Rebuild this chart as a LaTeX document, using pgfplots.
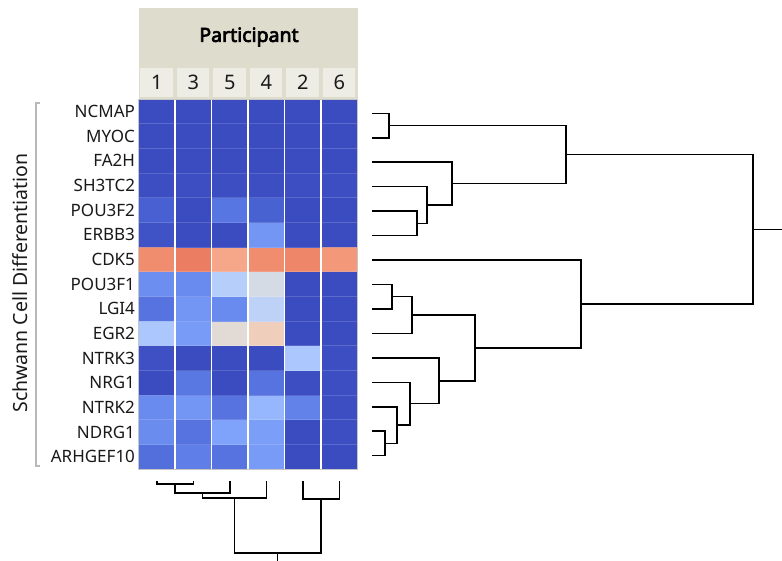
\documentclass[border=0pt]{standalone}
\usepackage{pgfplots}
\pgfplotsset{compat=1.18}
\usepackage{fontspec}
\setmainfont{Noto Sans}
\newfontfamily\hdrfont{Noto Sans}[FakeBold=3.5]
\definecolor{hdrbg}{RGB}{221,220,205}
\definecolor{hcell}{RGB}{237,236,229}
\definecolor{txt}{RGB}{25,25,25}
\definecolor{brk}{RGB}{185,185,185}
\begin{document}
\begin{tikzpicture}
\path[use as bounding box] (0,0) rectangle (782pt,-560pt);
% ---------- frame axis in pixel units (header, bracket, dendrograms)
\begin{axis}[name=px, at={(0pt,0pt)}, anchor=north west, scale only axis,
  width=782pt, height=560pt, xmin=0, xmax=782, ymin=0, ymax=560,
  y dir=reverse, hide axis, clip=false,
  dend/.style={black, line width=1.5pt, line join=miter, no markers}]
\fill[hdrbg] (axis cs:138.5,8) rectangle (axis cs:357.5,98.5);
\node[font=\hdrfont\fontsize{19.5}{19.5}\selectfont, text=black] at (axis cs:249,37) {Participant};
\draw[brk, line width=1.2pt] (axis cs:40,103) -- (axis cs:36,103) -- (axis cs:36,466) -- (axis cs:40,466);
\node[rotate=90, font=\fontsize{19.5}{19.5}\selectfont, text=txt] at (axis cs:20.5,283) {Schwann Cell Differentiation};
% right dendrogram
\addplot[dend] coordinates {(372,113.3)(389,113.3)(389,137.8)(372,137.8)};
\addplot[dend] coordinates {(372,211.1)(417,211.1)(417,235.6)(372,235.6)};
\addplot[dend] coordinates {(372,186.7)(427,186.7)(427,223.3)(417,223.3)};
\addplot[dend] coordinates {(372,162.2)(452,162.2)(452,205)(427,205)};
\addplot[dend] coordinates {(389,125.5)(566,125.5)(566,183.6)(452,183.6)};
\addplot[dend] coordinates {(372,284.5)(392,284.5)(392,309)(372,309)};
\addplot[dend] coordinates {(392,296.7)(412,296.7)(412,333.4)(372,333.4)};
\addplot[dend] coordinates {(372,431.2)(385,431.2)(385,455.7)(372,455.7)};
\addplot[dend] coordinates {(372,406.8)(397,406.8)(397,443.5)(385,443.5)};
\addplot[dend] coordinates {(372,382.3)(410,382.3)(410,425.1)(397,425.1)};
\addplot[dend] coordinates {(372,357.9)(439,357.9)(439,403.7)(410,403.7)};
\addplot[dend] coordinates {(412,315)(475,315)(475,380.8)(439,380.8)};
\addplot[dend] coordinates {(372,260)(581,260)(581,347.9)(475,347.9)};
\addplot[dend] coordinates {(566,154.6)(753,154.6)(753,304)(581,304)};
\addplot[dend] coordinates {(753,229.3)(785,229.3)};
% bottom dendrogram
\addplot[dend] coordinates {(156.75,481)(156.75,484)(193.25,484)(193.25,481)};
\addplot[dend] coordinates {(175,484)(175,493)(229.75,493)(229.75,481)};
\addplot[dend] coordinates {(202.4,493)(202.4,498)(266.25,498)(266.25,481)};
\addplot[dend] coordinates {(302.75,481)(302.75,499)(339.25,499)(339.25,481)};
\addplot[dend] coordinates {(234.3,498)(234.3,553)(321,553)(321,499)};
\addplot[dend] coordinates {(277.7,553)(277.7,563)};
\end{axis}
% ---------- heatmap
\begin{axis}[at={(138.5pt,-99pt)}, anchor=north west, scale only axis,
  width=219pt, height=370pt, xmin=-0.5, xmax=5.5, ymin=-0.5, ymax=14.5,
  colormap={coolwarm}{rgb255=(59,76,192) rgb255=(77,104,215) rgb255=(98,130,234)
    rgb255=(119,154,247) rgb255=(141,176,254) rgb255=(163,194,255) rgb255=(184,208,249)
    rgb255=(204,217,238) rgb255=(221,221,221) rgb255=(236,211,197) rgb255=(245,196,172)
    rgb255=(247,177,148) rgb255=(244,154,123) rgb255=(236,127,99) rgb255=(222,96,77)
    rgb255=(203,62,56) rgb255=(180,4,38)},
  point meta min=0, point meta max=1,
  xtick={0,...,5}, xticklabels={1,3,5,4,2,6}, xticklabel pos=upper,
  ytick={0,...,14},
  yticklabels={ARHGEF10,NDRG1,NTRK2,NRG1,NTRK3,EGR2,LGI4,POU3F1,CDK5,ERBB3,POU3F2,SH3TC2,FA2H,MYOC,NCMAP},
  major tick length=0pt, tick style={draw=none},
  axis line style={draw=gray!45, line width=1pt}, axis on top,
  yticklabel style={font=\fontsize{17}{17}\selectfont, text=txt},
  xticklabel style={font=\fontsize{20}{20}\selectfont, text=txt, fill=hcell,
    inner sep=0pt, minimum width=32.5pt, minimum height=29.5pt, anchor=south, yshift=1.5pt}]
\addplot[matrix plot*, mesh/cols=6, point meta=explicit] table[meta=c]{
x y c
0 0 0.08
1 0 0.115
2 0 0.09
3 0 0.19
4 0 0.0
5 0 0.0
0 1 0.15
1 1 0.09
2 1 0.21
3 1 0.20
4 1 0.0
5 1 0.005
0 2 0.145
1 2 0.175
2 2 0.09
3 2 0.275
4 2 0.125
5 2 0.005
0 3 0.0
1 3 0.10
2 3 0.0
3 3 0.09
4 3 0.005
5 3 0.005
0 4 0.01
1 4 0.0
2 4 0.0
3 4 0.0
4 4 0.335
5 4 0.005
0 5 0.335
1 5 0.19
2 5 0.52
3 5 0.585
4 5 0.0
5 5 0.0
0 6 0.09
1 6 0.175
2 6 0.145
3 6 0.39
4 6 0.0
5 6 0.0
0 7 0.155
1 7 0.145
2 7 0.365
3 7 0.47
4 7 0.0
5 7 0.0
0 8 0.78
1 8 0.815
2 8 0.715
3 8 0.78
4 8 0.795
5 8 0.755
0 9 0.015
1 9 0.0
2 9 0.0
3 9 0.175
4 9 0.0
5 9 0.0
0 10 0.045
1 10 0.0
2 10 0.095
3 10 0.05
4 10 0.0
5 10 0.0
0 11 0.005
1 11 0.005
2 11 0.005
3 11 0.005
4 11 0.005
5 11 0.005
0 12 0.0
1 12 0.0
2 12 0.0
3 12 0.0
4 12 0.0
5 12 0.0
0 13 0.0
1 13 0.0
2 13 0.0
3 13 0.0
4 13 0.0
5 13 0.0
0 14 0.0
1 14 0.0
2 14 0.0
3 14 0.0
4 14 0.0
5 14 0.0
};
\pgfplotsinvokeforeach{0.5,1.5,...,13.5}{\draw[white, opacity=0.15, line width=0.8pt] (axis cs:-0.5,#1) -- (axis cs:5.5,#1);}
\pgfplotsinvokeforeach{0.5,1.5,2.5,3.5,4.5}{\draw[white, line width=1.8pt] (axis cs:#1,-0.5) -- (axis cs:#1,14.5);}
\end{axis}
\end{tikzpicture}
\end{document}
